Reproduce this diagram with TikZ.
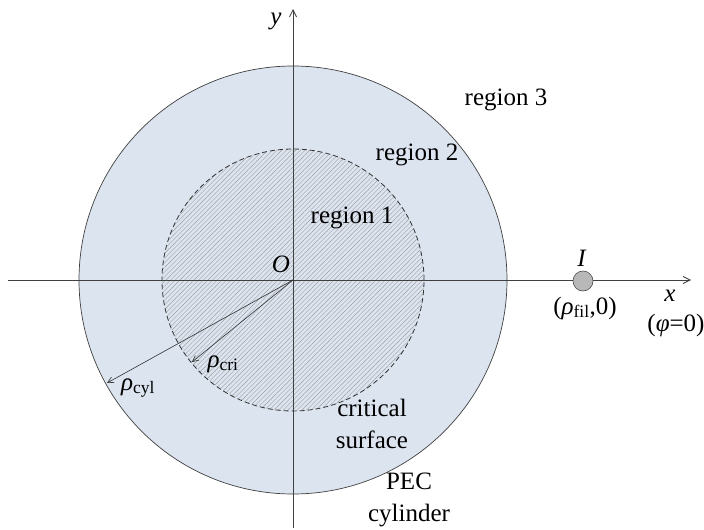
\documentclass[tikz,border=0pt]{standalone}
\usepackage{fontspec}
\setmainfont{Liberation Serif}
\usetikzlibrary{patterns.meta,arrows.meta}
\definecolor{regbg}{RGB}{220,228,240}
\begin{document}
\begin{tikzpicture}[x=1pt,y=-1pt,
  lbl/.style={font=\fontsize{25}{32}\selectfont, inner sep=0pt, align=center},
  axisline/.style={draw=black!75, line width=0.8pt, -{Straight Barb[length=7pt,width=7pt]}},
  radarrow/.style={draw=black!80, line width=0.6pt, -{Straight Barb[length=6pt,width=6pt]}},
  filstyle/.style={circle, draw=black!70, line width=0.6pt, fill=black!28, minimum size=20pt, inner sep=0pt}]
\useasboundingbox (0,0) rectangle (704,530);
\coordinate (O) at (293,280);
% region fills
\path[fill=regbg] (O) circle (214pt);
\path[pattern={Lines[angle=45,distance=3.3pt,line width=0.4pt]}, pattern color=black!38] (O) circle (131pt);
\draw[black!75, line width=0.7pt] (O) circle (214pt);
\draw[black!80, line width=0.8pt, dash pattern=on 5pt off 3pt] (O) circle (131pt);
% axes
\coordinate (xs) at (8,280);
\coordinate (xe) at (691,280);
\coordinate (ys) at (293,528);
\coordinate (ye) at (293,9);
\draw[axisline] (xs) -- (xe);
\draw[axisline] (ys) -- (ye);
% radius arrows
\coordinate (rcyl) at (107,383);
\coordinate (rcri) at (192,362);
\draw[radarrow] (O) -- (rcyl);
\draw[radarrow] (O) -- (rcri);
% filament
\node[filstyle] (fil) at (583,281) {};
% labels
\node[lbl] (ylab) at (276,21) {\textit{y}};
\node[lbl] (olab) at (281,264) {\textit{O}};
\node[lbl] (r3) at (506,100) {region 3};
\node[lbl] (r2) at (417,155) {region 2};
\node[lbl] (r1) at (352,218) {region 1};
\node[lbl] (crit) at (372,424) {critical\\surface};
\node[lbl] (pec) at (409,500) {PEC\\cylinder};
\node[lbl] (xlab) at (670,296) {\textit{x}};
\node[lbl] (phi) at (676,325) {(\textit{φ}=0)};
\node[lbl] (ilab) at (582,258) {\textit{I}};
\node[lbl] (filpos) at (585,308) {(\textit{ρ}\textsubscript{fil},0)};
\node[lbl] (rcyllab) at (138,388) {\textit{ρ}\textsubscript{cyl}};
\node[lbl] (rcrilab) at (223,364) {\textit{ρ}\textsubscript{cri}};
\end{tikzpicture}
\end{document}
